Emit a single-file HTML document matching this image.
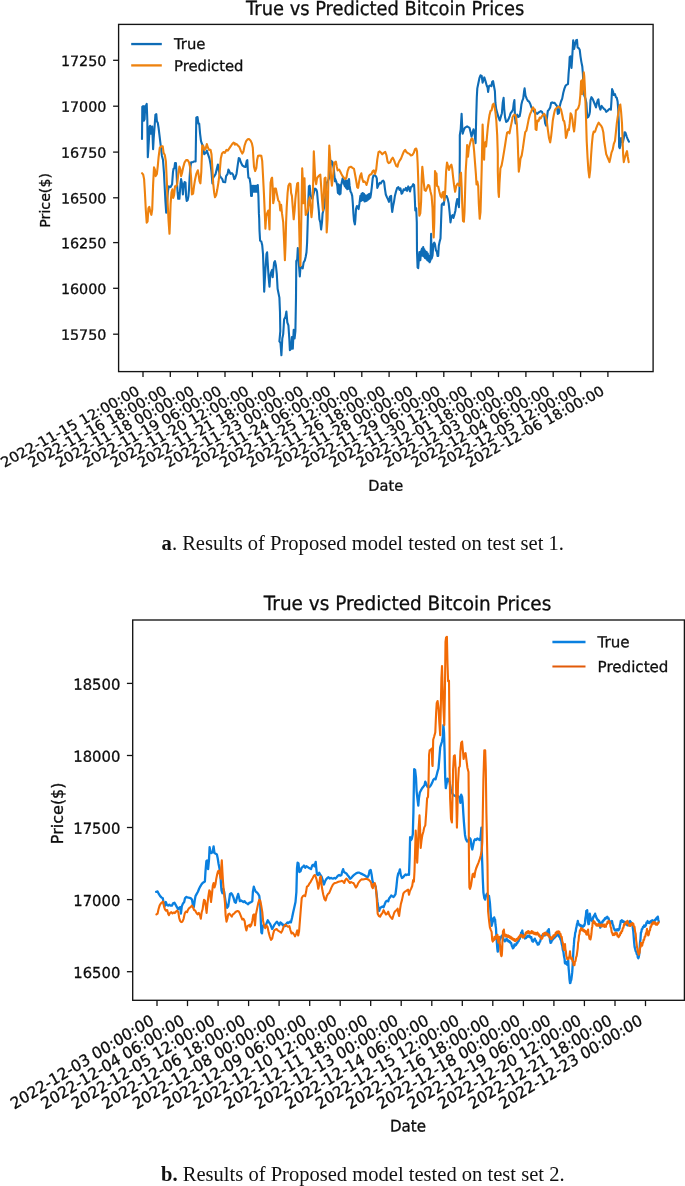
<!DOCTYPE html>
<html lang="en"><head><meta charset="utf-8"><title>True vs Predicted Bitcoin Prices</title>
<style>
html,body{margin:0;padding:0;background:#fff;}
body{width:685px;height:1186px;overflow:hidden;position:relative;}
svg{display:block;position:absolute;left:0;top:0;}
.dj{font-family:"DejaVu Sans","Liberation Sans",sans-serif;fill:#0d0d0d;stroke:#0d0d0d;stroke-width:0.3;}
.cap{font-family:"Liberation Serif","DejaVu Serif",serif;fill:#111;}
.ax{fill:none;stroke:#141414;stroke-width:1.35;}
.tk{stroke:#141414;stroke-width:1.3;}
</style></head><body>
<svg width="685" height="1186" viewBox="0 0 685 1186">
<rect width="685" height="1186" fill="#fff"/>
<g id="chart1">
<text class="dj" font-size="17.85" text-anchor="middle" transform="translate(385.15,14.95) scale(1,1.08) rotate(0.03)">True vs Predicted Bitcoin Prices</text>
<path d="M142.0,138.9 L142.3,106.8 L143.2,106.1 L143.8,120.7 L144.6,119.2 L145.2,106.1 L146.1,105.3 L146.7,103.9 L147.3,119.2 L147.8,157.2 L148.4,148.4 L149.0,138.2 L149.6,126.5 L150.2,125.8 L150.8,133.8 L151.4,128.7 L152.2,126.5 L153.1,149.1 L153.7,138.2 L154.6,126.5 L155.4,114.8 L156.3,114.1 L156.9,121.4 L157.8,122.8 L158.6,128.0 L159.5,135.3 L160.7,145.5 L161.9,155.7 L163.0,160.1 L163.9,171.8 L164.8,189.3 L165.4,200.9 L166.2,212.6 L167.1,200.9 L168.0,190.7 L168.9,186.4 L170.6,187.1 L172.1,184.2 L173.0,171.8 L173.5,168.8 L174.4,168.1 L175.0,163.0 L175.9,163.0 L176.5,171.8 L177.0,183.4 L177.6,192.2 L178.2,198.8 L179.4,198.8 L180.0,190.7 L180.5,183.4 L181.1,179.1 L182.0,183.4 L182.9,194.4 L183.8,184.9 L184.6,182.0 L185.5,182.7 L186.1,196.6 L186.7,200.9 L187.6,200.2 L188.4,196.6 L189.0,189.3 L189.6,177.6 L190.2,168.8 L191.1,162.3 L192.8,162.3 L193.7,161.5 L195.6,161.5 L196.3,117.7 L197.5,117.0 L198.4,123.6 L199.2,123.6 L200.1,133.8 L201.0,141.1 L202.2,144.7 L203.0,145.5 L204.2,154.2 L205.9,152.8 L206.8,150.6 L208.0,154.2 L209.5,158.6 L210.6,164.5 L211.5,171.8 L212.4,183.4 L213.2,177.6 L214.4,176.1 L215.6,173.9 L216.8,168.8 L217.9,164.5 L218.8,170.3 L220.0,176.1 L221.1,177.6 L222.3,179.1 L223.2,182.0 L225.2,182.3 L226.1,176.1 L227.6,173.9 L228.4,169.6 L229.6,171.8 L230.5,173.9 L231.9,173.2 L233.1,174.7 L234.3,179.1 L235.0,178.4 L236.5,174.0 L237.9,163.8 L238.8,158.0 L239.7,158.7 L240.8,162.3 L242.3,165.3 L244.1,166.7 L245.5,167.0 L246.7,160.9 L247.3,160.1 L247.8,169.6 L248.4,177.7 L249.6,178.4 L250.5,184.2 L251.1,195.9 L251.9,195.9 L252.2,185.7 L253.0,191.8 L253.7,185.7 L254.4,191.8 L255.1,185.7 L255.9,191.8 L256.6,185.7 L257.3,191.8 L257.8,185.1 L258.4,195.9 L258.9,213.4 L259.2,218.8 L259.5,230.4 L260.1,240.7 L261.3,241.4 L262.2,245.0 L263.0,253.8 L263.6,271.3 L264.2,291.8 L264.8,280.1 L265.7,265.5 L266.5,253.8 L267.1,252.3 L267.7,262.6 L268.6,277.2 L269.5,286.6 L270.0,278.6 L270.9,272.8 L272.1,269.9 L272.7,277.2 L273.2,271.3 L274.1,262.6 L275.0,261.1 L275.9,265.5 L276.8,274.2 L277.6,288.8 L278.5,293.2 L279.4,297.6 L280.0,312.2 L280.3,331.2 L279.4,341.4 L280.5,342.8 L281.4,355.3 L282.3,338.5 L283.2,334.1 L284.1,319.5 L285.5,316.6 L286.4,311.5 L287.3,322.4 L288.4,325.3 L289.3,338.5 L289.9,350.1 L291.1,348.7 L291.9,337.0 L292.8,348.7 L293.7,329.7 L294.6,338.5 L295.4,331.2 L296.0,297.6 L296.3,261.1 L297.2,259.6 L297.8,248.0 L298.6,261.1 L299.2,268.4 L299.8,276.4 L300.4,268.4 L301.6,266.9 L302.7,268.4 L303.6,262.6 L304.8,260.4 L305.7,256.7 L306.5,252.3 L307.1,242.8 L307.7,223.1 L308.3,201.8 L308.9,186.4 L309.7,185.7 L310.3,193.0 L311.2,197.4 L312.4,198.8 L313.8,193.0 L315.0,188.6 L316.2,189.3 L317.0,191.5 L317.9,201.8 L318.8,210.5 L319.4,219.3 L320.3,222.2 L321.1,229.5 L322.0,222.2 L322.6,213.4 L324.1,207.6 L325.5,195.9 L326.7,182.8 L327.8,181.3 L329.0,178.4 L330.2,168.2 L331.4,160.9 L332.5,162.3 L333.7,168.2 L335.0,181.3 L335.0,178.4 L336.2,181.3 L337.3,185.7 L337.9,193.0 L338.4,184.2 L338.8,193.7 L339.2,185.0 L339.7,194.5 L340.1,185.7 L340.5,193.7 L341.0,185.0 L341.4,184.2 L342.6,178.4 L343.2,180.6 L344.1,184.2 L344.9,186.4 L345.5,179.9 L346.1,187.9 L346.7,181.3 L347.3,189.3 L347.8,180.6 L348.4,188.6 L349.0,179.1 L349.6,185.7 L350.5,191.5 L351.4,193.0 L352.2,195.9 L352.8,203.2 L353.4,213.4 L354.0,220.7 L354.9,224.4 L355.4,219.3 L356.0,209.1 L356.9,206.1 L357.8,206.9 L358.6,209.1 L359.5,203.2 L360.4,195.9 L361.0,201.0 L361.6,193.7 L362.2,200.3 L362.7,193.0 L363.3,200.0 L363.9,193.7 L364.5,201.5 L365.1,195.2 L365.7,201.2 L366.2,195.9 L366.8,200.6 L367.4,195.2 L368.0,199.6 L368.6,194.2 L369.2,198.8 L369.7,193.7 L370.3,197.7 L370.9,194.5 L371.8,187.2 L372.7,178.4 L373.5,175.5 L374.7,175.2 L375.9,176.2 L376.8,178.4 L377.3,187.9 L378.5,185.0 L379.7,182.8 L380.8,183.5 L382.0,181.3 L383.2,180.6 L384.1,182.0 L384.9,188.6 L385.8,194.5 L387.0,197.4 L388.1,199.6 L389.0,201.8 L389.9,196.6 L391.1,195.9 L391.6,206.1 L392.2,212.0 L393.1,206.1 L394.0,201.8 L394.9,195.9 L396.0,191.5 L397.2,187.9 L398.4,187.2 L399.5,189.8 L400.4,188.3 L401.6,193.7 L402.4,193.0 L403.6,189.3 L404.8,190.1 L405.9,187.9 L407.1,190.8 L408.3,186.4 L409.2,188.6 L410.0,191.5 L410.9,187.2 L412.1,186.4 L413.2,184.2 L414.1,185.0 L414.7,195.9 L415.3,210.5 L416.2,208.3 L416.8,222.2 L417.0,251.4 L417.6,267.4 L418.2,268.2 L418.8,260.1 L419.4,252.1 L420.3,260.1 L421.1,251.4 L422.0,248.5 L422.6,255.8 L423.2,247.0 L423.8,256.5 L424.3,249.2 L424.9,258.0 L425.5,251.4 L426.1,258.7 L426.7,252.1 L427.3,260.1 L427.8,253.6 L428.4,260.9 L429.0,255.8 L429.6,262.3 L430.5,260.1 L431.1,233.9 L431.6,258.7 L432.5,255.8 L433.4,244.1 L434.3,242.6 L435.0,244.1 L435.0,244.3 L435.9,250.1 L436.8,251.6 L437.6,256.0 L438.2,256.0 L438.8,245.8 L439.7,241.4 L440.5,238.5 L441.1,220.9 L441.7,204.9 L442.6,203.4 L443.8,204.9 L444.6,197.6 L445.5,196.1 L446.7,196.1 L447.8,199.1 L448.7,203.4 L449.6,212.2 L450.5,222.4 L451.4,216.6 L452.5,215.1 L453.4,218.0 L454.3,215.1 L455.4,210.7 L456.3,203.4 L457.2,199.1 L458.1,203.4 L458.9,207.1 L459.5,188.8 L459.8,153.8 L459.8,135.1 L460.7,129.3 L461.6,113.9 L462.2,126.4 L462.7,133.6 L463.6,130.7 L464.8,127.8 L465.9,127.1 L467.1,126.4 L468.3,127.1 L469.5,127.8 L470.6,132.2 L471.5,136.6 L472.4,133.6 L473.5,129.3 L474.4,132.2 L475.6,143.1 L476.2,117.6 L476.8,97.2 L477.3,88.4 L478.2,84.0 L479.4,78.2 L480.5,75.3 L481.7,76.0 L482.6,82.6 L483.5,79.6 L484.3,77.4 L485.5,81.1 L486.7,85.5 L487.6,87.7 L488.1,92.0 L489.0,86.2 L490.2,85.5 L491.4,86.2 L492.2,81.8 L493.1,81.1 L494.0,86.2 L494.9,91.3 L495.4,103.0 L496.3,109.6 L497.5,113.9 L498.6,117.6 L499.8,120.5 L501.0,116.1 L501.9,113.2 L502.7,103.0 L503.6,97.9 L504.2,108.8 L505.1,117.6 L506.2,122.0 L507.4,121.2 L508.6,119.1 L509.7,116.1 L510.6,113.2 L511.8,111.8 L513.0,109.6 L513.8,103.0 L514.4,100.1 L515.0,117.6 L515.6,123.4 L516.2,117.6 L517.3,114.7 L518.5,116.9 L519.7,116.1 L520.5,111.8 L521.4,104.5 L522.3,100.8 L523.2,98.6 L524.1,91.3 L524.6,88.4 L525.5,95.7 L526.7,98.6 L527.8,100.8 L529.0,101.5 L530.2,103.7 L531.4,107.4 L532.5,109.6 L533.7,111.0 L535.0,113.2 L535.0,111.8 L536.2,113.2 L537.3,113.9 L538.5,112.5 L539.7,111.8 L540.8,111.0 L542.0,111.8 L543.2,114.7 L544.3,116.1 L545.2,123.4 L546.1,125.6 L547.0,117.6 L547.8,111.0 L549.0,109.6 L550.2,107.4 L551.1,103.0 L552.2,102.3 L553.4,103.0 L554.6,102.7 L555.7,104.5 L556.9,105.9 L557.8,113.9 L558.9,113.2 L559.8,105.9 L561.0,101.5 L562.2,98.6 L563.3,92.8 L564.5,88.4 L565.7,85.5 L566.8,84.7 L568.0,84.0 L568.6,73.8 L569.2,66.5 L569.7,57.0 L570.6,56.3 L571.5,68.0 L572.1,59.2 L572.7,49.0 L573.2,40.2 L574.1,49.0 L575.0,44.6 L576.2,40.2 L577.0,39.9 L577.6,47.5 L578.8,48.2 L579.7,49.7 L580.5,56.3 L581.4,62.1 L582.3,66.5 L582.9,73.8 L583.5,88.4 L584.3,95.7 L585.5,98.6 L586.4,103.0 L587.3,117.6 L588.4,116.9 L589.3,114.7 L589.9,111.8 L590.5,100.1 L591.4,97.2 L592.5,98.6 L593.7,101.5 L594.9,104.5 L596.0,107.4 L596.9,103.0 L597.8,100.1 L598.4,99.3 L599.2,105.9 L600.4,109.6 L601.6,105.9 L602.7,107.4 L603.9,108.8 L605.1,109.6 L606.2,111.8 L607.4,111.0 L608.6,109.6 L609.7,108.8 L610.9,109.6 L611.5,100.1 L612.1,89.1 L613.0,91.3 L613.8,95.0 L615.0,94.2 L615.9,97.2 L616.8,97.9 L617.6,101.5 L618.2,108.8 L618.8,123.4 L619.1,146.8 L619.7,148.2 L620.5,145.3 L621.1,138.0 L622.0,140.9 L622.9,142.4 L623.8,138.0 L624.6,132.2 L625.5,132.9 L626.7,136.6 L627.8,139.5 L629.0,141.7" fill="none" stroke="#0e6cb6" stroke-width="2.1" stroke-linejoin="round" stroke-linecap="round"/>
<path d="M142.0,173.2 L143.2,174.7 L144.1,179.1 L144.9,192.2 L145.8,209.7 L146.7,222.8 L147.6,221.4 L148.4,208.2 L149.3,206.8 L150.2,211.2 L151.4,214.8 L152.2,209.7 L153.1,184.9 L154.0,167.4 L154.9,169.6 L155.7,176.1 L156.9,173.9 L157.8,165.9 L158.6,157.2 L159.8,147.7 L161.3,146.2 L162.7,146.2 L163.6,152.8 L164.8,155.0 L165.9,161.5 L166.8,180.5 L167.7,203.9 L168.6,221.4 L169.5,233.8 L170.0,221.4 L170.6,203.9 L171.5,192.2 L172.4,189.3 L173.2,198.0 L174.1,195.1 L175.0,186.4 L176.2,186.4 L177.3,183.4 L178.2,174.7 L179.4,166.6 L180.3,168.8 L181.1,176.1 L182.0,173.2 L183.2,167.4 L184.6,162.3 L186.1,160.1 L187.6,160.1 L189.0,162.3 L190.2,167.4 L191.1,177.6 L191.9,194.4 L193.1,193.6 L194.0,186.4 L194.9,180.5 L196.3,173.9 L197.8,170.3 L198.6,174.7 L199.5,181.2 L200.4,183.4 L201.3,171.8 L202.2,145.5 L203.3,146.2 L204.5,149.9 L205.7,148.4 L206.8,144.0 L208.0,147.7 L209.2,149.9 L210.6,149.9 L211.5,154.2 L212.4,168.8 L213.2,183.4 L214.1,192.2 L215.0,197.3 L216.2,195.1 L217.3,189.3 L218.5,182.0 L219.7,171.8 L220.8,158.6 L222.0,153.5 L223.5,152.0 L224.9,152.8 L226.4,149.9 L227.8,150.6 L229.3,148.4 L230.8,146.2 L232.2,144.0 L233.7,142.6 L235.0,144.7 L235.0,143.4 L236.5,144.1 L237.9,145.5 L239.4,147.0 L240.8,150.7 L242.3,153.6 L243.5,151.4 L244.6,145.5 L246.1,141.2 L247.6,139.3 L249.0,139.0 L250.5,140.4 L251.9,143.4 L252.8,147.7 L253.4,158.0 L254.0,166.7 L255.1,171.1 L256.3,168.2 L257.2,159.4 L258.1,155.8 L259.8,155.5 L261.3,155.8 L262.2,160.9 L263.0,175.5 L263.9,193.0 L264.8,213.4 L265.4,228.8 L266.2,216.4 L267.1,213.4 L268.3,210.5 L268.9,219.3 L269.5,229.5 L270.0,201.8 L270.6,182.8 L271.5,178.4 L272.1,177.7 L272.7,187.2 L273.2,203.2 L274.1,198.8 L274.7,188.6 L275.9,188.6 L277.0,194.5 L278.2,200.3 L279.4,201.8 L280.3,210.5 L281.1,204.7 L282.0,213.4 L283.2,222.2 L284.1,241.2 L284.9,260.1 L285.5,245.5 L286.1,222.2 L286.7,207.6 L287.6,193.0 L288.4,185.7 L289.6,183.5 L290.5,184.2 L291.1,193.0 L291.9,195.9 L292.8,207.6 L293.7,219.3 L294.6,210.5 L295.4,198.8 L296.3,190.1 L297.2,183.5 L298.1,182.8 L298.6,201.8 L299.2,228.0 L299.8,251.4 L300.4,266.0 L301.0,236.8 L301.6,201.8 L302.2,168.2 L302.7,178.4 L303.3,203.2 L303.9,181.3 L304.5,178.4 L305.1,201.8 L305.7,214.9 L306.5,213.4 L307.7,210.5 L308.6,201.8 L309.7,197.4 L310.6,207.6 L311.5,217.1 L312.4,207.6 L313.2,181.3 L313.8,151.4 L314.7,168.2 L315.3,179.9 L316.2,184.2 L317.0,178.4 L317.9,176.9 L319.1,175.5 L320.3,174.7 L321.1,185.7 L322.0,198.8 L322.9,210.5 L323.8,195.9 L324.6,178.4 L325.5,177.7 L326.1,193.0 L326.7,232.4 L327.6,219.3 L328.4,178.4 L329.3,145.5 L330.2,158.0 L331.1,178.4 L331.9,185.7 L333.1,175.5 L334.3,162.3 L335.0,163.8 L335.0,163.8 L335.9,161.6 L336.8,166.7 L337.6,170.4 L339.1,169.6 L340.3,171.8 L341.4,174.0 L342.6,176.2 L343.8,177.7 L345.2,179.1 L346.4,177.7 L347.6,171.1 L349.0,167.4 L350.8,166.7 L352.5,167.9 L354.0,168.9 L355.1,174.7 L356.3,181.3 L357.2,187.2 L358.1,187.9 L358.9,182.8 L360.1,176.2 L361.3,173.3 L362.2,178.4 L363.3,182.0 L364.5,181.3 L365.7,182.8 L366.5,185.0 L367.4,182.0 L368.9,176.2 L370.0,174.7 L371.5,174.0 L372.7,171.1 L373.8,170.4 L375.0,174.0 L376.2,169.6 L377.3,159.4 L378.5,152.1 L379.7,151.4 L381.1,152.8 L382.3,154.3 L383.8,152.8 L385.2,151.8 L386.4,155.0 L387.6,161.6 L388.7,163.1 L390.2,162.3 L391.4,159.4 L392.8,157.7 L394.0,160.1 L395.1,163.1 L396.3,166.0 L397.5,166.7 L398.4,163.1 L399.5,160.9 L401.0,158.7 L402.4,155.0 L403.9,151.4 L405.1,149.9 L406.5,152.1 L408.0,153.3 L409.5,153.9 L410.9,155.5 L412.4,155.0 L413.8,152.8 L415.0,149.2 L416.2,148.5 L417.0,151.4 L417.6,162.3 L418.2,178.4 L418.8,201.8 L419.4,215.6 L420.3,213.4 L421.1,201.8 L421.7,178.4 L422.3,166.7 L422.9,172.6 L423.8,182.8 L424.6,190.1 L425.8,190.8 L427.0,187.9 L428.1,185.0 L429.3,185.7 L430.5,191.5 L431.6,195.9 L432.5,207.6 L433.1,228.0 L433.7,237.5 L434.3,222.2 L435.0,171.1 L435.6,172.8 L436.5,173.5 L437.0,185.9 L438.2,186.6 L439.4,191.8 L440.5,196.1 L441.7,197.6 L442.6,192.5 L443.5,191.8 L444.3,200.5 L445.2,191.8 L446.1,171.3 L447.0,162.6 L448.1,166.2 L449.0,169.9 L450.2,166.2 L451.4,164.7 L452.2,168.4 L453.1,177.2 L454.0,184.5 L455.1,191.8 L456.3,185.9 L457.5,183.7 L458.6,184.5 L459.5,185.9 L460.4,174.2 L461.0,172.8 L461.6,185.9 L462.2,203.4 L463.0,220.9 L463.9,221.7 L464.5,212.2 L465.1,191.8 L465.7,171.3 L466.5,158.2 L467.1,145.0 L468.0,156.7 L468.9,148.0 L470.0,143.6 L471.2,139.2 L472.4,138.5 L473.2,141.4 L474.1,150.9 L475.0,162.6 L475.9,174.2 L476.5,184.5 L477.3,181.5 L478.2,185.9 L478.8,203.4 L479.7,218.8 L480.5,212.2 L481.1,191.8 L481.7,168.4 L482.3,139.2 L482.6,124.6 L483.2,139.2 L484.1,159.6 L484.6,145.0 L485.5,142.1 L486.1,146.5 L487.0,136.3 L487.8,127.5 L488.7,120.2 L489.6,114.4 L489.6,114.7 L490.5,111.0 L491.6,110.3 L492.8,104.5 L493.7,103.7 L494.6,107.4 L495.4,111.8 L496.3,120.5 L497.2,135.1 L497.8,154.1 L497.8,171.3 L498.4,191.8 L498.9,196.9 L499.5,183.0 L500.4,168.4 L501.6,165.5 L502.7,159.6 L503.9,152.3 L505.1,145.0 L506.2,137.7 L507.1,132.6 L508.3,131.9 L509.5,133.4 L510.3,129.0 L511.2,124.6 L512.4,118.8 L512.4,117.6 L513.5,115.4 L514.7,114.7 L515.9,116.1 L516.8,123.4 L517.6,138.0 L518.2,155.5 L518.8,171.6 L519.7,165.8 L520.5,158.5 L521.7,155.5 L522.9,148.2 L524.1,139.5 L525.2,132.2 L526.4,130.7 L527.6,124.9 L528.7,119.1 L529.9,114.7 L531.1,111.8 L532.2,108.8 L533.1,107.4 L534.3,109.6 L535.0,109.6 L535.6,129.3 L536.5,130.0 L537.3,120.5 L538.5,121.2 L539.7,117.6 L540.8,118.3 L542.0,116.1 L543.2,114.7 L544.3,113.9 L545.5,116.1 L546.7,120.5 L547.8,129.3 L549.0,138.0 L550.2,142.4 L551.1,136.6 L551.9,129.3 L552.8,120.5 L554.0,113.9 L555.1,109.6 L556.3,108.1 L557.5,107.4 L558.6,106.6 L559.8,107.4 L561.0,109.6 L562.2,114.7 L563.3,120.5 L564.2,121.2 L565.1,126.4 L565.9,138.0 L566.8,135.1 L568.0,129.3 L568.9,130.0 L569.7,123.4 L570.6,113.2 L571.5,114.7 L572.4,119.1 L573.2,126.4 L574.1,131.5 L575.0,123.4 L575.9,110.3 L577.0,109.6 L578.2,108.1 L579.4,104.5 L580.3,95.7 L581.1,81.1 L581.7,80.4 L582.3,94.2 L583.2,85.5 L583.8,72.3 L584.3,76.7 L584.9,88.4 L585.5,103.0 L586.1,120.5 L586.7,140.9 L587.6,158.5 L588.4,170.1 L589.3,177.4 L590.2,170.1 L591.1,155.5 L591.9,143.9 L592.8,135.1 L593.7,131.5 L594.6,132.2 L595.4,130.7 L596.3,127.8 L597.5,124.9 L598.6,122.7 L599.8,124.2 L601.0,125.6 L602.2,127.8 L603.3,132.2 L604.2,140.9 L605.1,146.8 L606.2,154.1 L607.4,157.0 L608.6,159.9 L609.5,162.1 L610.3,158.5 L611.5,152.6 L612.7,149.7 L613.8,143.9 L615.0,140.9 L615.9,132.2 L616.8,123.4 L617.6,117.6 L618.5,111.8 L619.4,105.9 L620.3,104.5 L621.1,111.8 L622.0,123.4 L622.6,140.9 L623.2,155.5 L623.8,162.1 L624.6,158.5 L625.5,155.5 L626.4,152.6 L627.0,151.2 L627.8,157.0 L628.7,162.1" fill="none" stroke="#ee820e" stroke-width="2.1" stroke-linejoin="round" stroke-linecap="round"/>
<rect class="ax" x="118.6" y="24.4" width="534.5" height="347.2"/>
<line class="tk" x1="113.1" y1="60.3" x2="118.6" y2="60.3"/>
<text class="dj" font-size="14.8" text-anchor="end" transform="translate(106.40,65.90) scale(1,0.96) rotate(0.03) scale(0.967,1)">17250</text>
<line class="tk" x1="113.1" y1="106.2" x2="118.6" y2="106.2"/>
<text class="dj" font-size="14.8" text-anchor="end" transform="translate(106.40,111.80) scale(1,0.96) rotate(0.03) scale(0.967,1)">17000</text>
<line class="tk" x1="113.1" y1="152.1" x2="118.6" y2="152.1"/>
<text class="dj" font-size="14.8" text-anchor="end" transform="translate(106.40,157.70) scale(1,0.96) rotate(0.03) scale(0.967,1)">16750</text>
<line class="tk" x1="113.1" y1="197.8" x2="118.6" y2="197.8"/>
<text class="dj" font-size="14.8" text-anchor="end" transform="translate(106.40,203.40) scale(1,0.96) rotate(0.03) scale(0.967,1)">16500</text>
<line class="tk" x1="113.1" y1="242.6" x2="118.6" y2="242.6"/>
<text class="dj" font-size="14.8" text-anchor="end" transform="translate(106.40,248.20) scale(1,0.96) rotate(0.03) scale(0.967,1)">16250</text>
<line class="tk" x1="113.1" y1="288.3" x2="118.6" y2="288.3"/>
<text class="dj" font-size="14.8" text-anchor="end" transform="translate(106.40,293.90) scale(1,0.96) rotate(0.03) scale(0.967,1)">16000</text>
<line class="tk" x1="113.1" y1="334.2" x2="118.6" y2="334.2"/>
<text class="dj" font-size="14.8" text-anchor="end" transform="translate(106.40,339.80) scale(1,0.96) rotate(0.03) scale(0.967,1)">15750</text>
<line class="tk" x1="143.0" y1="371.6" x2="143.0" y2="377.1"/>
<text class="dj" font-size="14.8" text-anchor="end" transform="translate(140.60,393.90) scale(1,0.94) rotate(-30)">2022-11-15 12:00:00</text>
<line class="tk" x1="170.3" y1="371.6" x2="170.3" y2="377.1"/>
<text class="dj" font-size="14.8" text-anchor="end" transform="translate(167.95,393.90) scale(1,0.94) rotate(-30)">2022-11-16 18:00:00</text>
<line class="tk" x1="197.7" y1="371.6" x2="197.7" y2="377.1"/>
<text class="dj" font-size="14.8" text-anchor="end" transform="translate(195.29,393.90) scale(1,0.94) rotate(-30)">2022-11-18 00:00:00</text>
<line class="tk" x1="225.0" y1="371.6" x2="225.0" y2="377.1"/>
<text class="dj" font-size="14.8" text-anchor="end" transform="translate(222.64,393.90) scale(1,0.94) rotate(-30)">2022-11-19 06:00:00</text>
<line class="tk" x1="252.4" y1="371.6" x2="252.4" y2="377.1"/>
<text class="dj" font-size="14.8" text-anchor="end" transform="translate(249.99,393.90) scale(1,0.94) rotate(-30)">2022-11-20 12:00:00</text>
<line class="tk" x1="279.7" y1="371.6" x2="279.7" y2="377.1"/>
<text class="dj" font-size="14.8" text-anchor="end" transform="translate(277.34,393.90) scale(1,0.94) rotate(-30)">2022-11-21 18:00:00</text>
<line class="tk" x1="307.1" y1="371.6" x2="307.1" y2="377.1"/>
<text class="dj" font-size="14.8" text-anchor="end" transform="translate(304.68,393.90) scale(1,0.94) rotate(-30)">2022-11-23 00:00:00</text>
<line class="tk" x1="334.4" y1="371.6" x2="334.4" y2="377.1"/>
<text class="dj" font-size="14.8" text-anchor="end" transform="translate(332.03,393.90) scale(1,0.94) rotate(-30)">2022-11-24 06:00:00</text>
<line class="tk" x1="361.8" y1="371.6" x2="361.8" y2="377.1"/>
<text class="dj" font-size="14.8" text-anchor="end" transform="translate(359.38,393.90) scale(1,0.94) rotate(-30)">2022-11-25 12:00:00</text>
<line class="tk" x1="389.1" y1="371.6" x2="389.1" y2="377.1"/>
<text class="dj" font-size="14.8" text-anchor="end" transform="translate(386.72,393.90) scale(1,0.94) rotate(-30)">2022-11-26 18:00:00</text>
<line class="tk" x1="416.5" y1="371.6" x2="416.5" y2="377.1"/>
<text class="dj" font-size="14.8" text-anchor="end" transform="translate(414.07,393.90) scale(1,0.94) rotate(-30)">2022-11-28 00:00:00</text>
<line class="tk" x1="443.8" y1="371.6" x2="443.8" y2="377.1"/>
<text class="dj" font-size="14.8" text-anchor="end" transform="translate(441.42,393.90) scale(1,0.94) rotate(-30)">2022-11-29 06:00:00</text>
<line class="tk" x1="471.2" y1="371.6" x2="471.2" y2="377.1"/>
<text class="dj" font-size="14.8" text-anchor="end" transform="translate(468.76,393.90) scale(1,0.94) rotate(-30)">2022-11-30 12:00:00</text>
<line class="tk" x1="498.5" y1="371.6" x2="498.5" y2="377.1"/>
<text class="dj" font-size="14.8" text-anchor="end" transform="translate(496.11,393.90) scale(1,0.94) rotate(-30)">2022-12-01 18:00:00</text>
<line class="tk" x1="525.9" y1="371.6" x2="525.9" y2="377.1"/>
<text class="dj" font-size="14.8" text-anchor="end" transform="translate(523.46,393.90) scale(1,0.94) rotate(-30)">2022-12-03 00:00:00</text>
<line class="tk" x1="553.2" y1="371.6" x2="553.2" y2="377.1"/>
<text class="dj" font-size="14.8" text-anchor="end" transform="translate(550.81,393.90) scale(1,0.94) rotate(-30)">2022-12-04 06:00:00</text>
<line class="tk" x1="580.6" y1="371.6" x2="580.6" y2="377.1"/>
<text class="dj" font-size="14.8" text-anchor="end" transform="translate(578.15,393.90) scale(1,0.94) rotate(-30)">2022-12-05 12:00:00</text>
<line class="tk" x1="607.9" y1="371.6" x2="607.9" y2="377.1"/>
<text class="dj" font-size="14.8" text-anchor="end" transform="translate(605.50,393.90) scale(1,0.94) rotate(-30)">2022-12-06 18:00:00</text>
<text class="dj" font-size="14.8" text-anchor="middle" transform="translate(385.70,490.80) rotate(0.03) scale(0.985,1)">Date</text>
<text class="dj" font-size="14.8" text-anchor="middle" transform="translate(50.00,200.40) scale(1,0.96) rotate(-90)">Price($)</text>
<line x1="131.2" y1="44.05" x2="161.8" y2="44.05" stroke="#0e6cb6" stroke-width="2.3"/>
<line x1="131.2" y1="65.4" x2="161.8" y2="65.4" stroke="#ee820e" stroke-width="2.3"/>
<text class="dj" font-size="14.8" text-anchor="start" transform="translate(174.00,49.05) rotate(0.03)">True</text>
<text class="dj" font-size="14.8" text-anchor="start" transform="translate(174.00,71.00) rotate(0.03)">Predicted</text>
</g>
<text class="cap" x="362.8" y="549.9" font-size="20.55" text-anchor="middle"><tspan font-weight="bold">a</tspan>. Results of Proposed model tested on test set 1.</text>
<g id="chart2">
<text class="dj" font-size="18.45" text-anchor="middle" transform="translate(407.50,610.10) scale(1,1.06) rotate(0.03)">True vs Predicted Bitcoin Prices</text>
<path d="M156.1,891.8 L157.6,891.5 L158.8,893.9 L160.2,896.1 L161.7,897.6 L162.8,898.3 L163.7,903.4 L164.6,906.4 L165.8,902.0 L166.9,904.9 L168.1,905.6 L169.3,904.6 L170.4,905.6 L171.9,905.6 L173.1,903.4 L174.5,902.7 L175.7,904.9 L176.9,907.1 L178.0,909.3 L179.2,907.8 L180.4,907.1 L180.9,913.6 L181.8,906.4 L183.0,903.4 L184.2,902.0 L185.0,898.3 L186.2,896.9 L187.4,897.3 L188.5,897.6 L189.7,897.9 L190.9,898.3 L192.0,899.8 L192.9,904.9 L193.8,907.1 L194.7,900.5 L195.5,896.1 L196.7,893.9 L197.9,891.8 L199.1,888.8 L200.2,886.6 L201.4,884.5 L202.6,883.0 L203.7,882.3 L204.9,881.5 L205.5,871.3 L206.4,861.1 L207.2,860.4 L208.1,869.1 L209.0,859.6 L209.6,847.2 L210.4,852.3 L211.3,853.1 L212.5,852.3 L213.6,846.5 L214.5,853.1 L215.7,853.8 L216.9,854.5 L217.7,858.2 L218.6,864.0 L219.5,868.4 L220.4,874.2 L220.9,883.0 L221.5,890.3 L222.4,893.2 L223.3,888.8 L224.2,891.8 L225.0,897.6 L225.9,903.4 L227.1,907.8 L228.2,906.4 L229.1,900.5 L230.0,893.9 L231.2,893.2 L232.3,894.7 L233.5,897.6 L234.7,902.0 L235.8,902.7 L237.0,897.6 L238.2,893.9 L239.1,897.6 L239.9,901.2 L241.1,900.5 L242.3,901.2 L243.4,902.0 L244.6,901.2 L245.8,902.7 L246.9,903.4 L248.1,904.2 L249.3,902.7 L250.0,902.7 L251.2,902.0 L252.3,901.2 L252.9,891.8 L253.8,886.6 L254.7,889.6 L255.8,891.8 L257.0,892.5 L258.2,893.9 L259.3,896.1 L260.2,903.4 L260.8,920.9 L261.4,932.6 L262.0,933.4 L262.6,926.8 L263.4,925.3 L264.6,926.8 L265.8,925.3 L266.9,922.4 L267.8,920.2 L269.0,922.4 L270.1,923.9 L271.3,926.8 L272.2,929.0 L273.4,926.8 L274.5,924.6 L275.7,923.1 L276.9,921.7 L278.0,923.1 L279.2,925.3 L280.4,922.4 L281.5,923.1 L282.7,925.3 L283.9,924.6 L285.0,926.1 L286.2,923.9 L287.4,922.4 L288.5,923.1 L289.7,921.7 L290.9,922.4 L292.0,918.0 L293.2,912.2 L294.4,907.1 L295.5,902.0 L296.4,891.8 L297.0,868.4 L297.6,862.6 L298.5,863.3 L299.3,872.0 L300.5,871.3 L301.7,867.7 L302.8,866.9 L304.0,865.5 L305.2,867.7 L306.4,866.2 L307.5,866.9 L308.7,867.7 L309.9,868.4 L311.0,869.1 L312.2,865.5 L313.4,864.7 L314.5,866.2 L315.7,861.8 L316.3,868.4 L316.9,874.2 L318.0,875.0 L319.2,872.8 L320.4,875.0 L321.5,876.4 L322.7,880.1 L323.9,884.5 L325.0,881.5 L326.2,879.3 L327.4,877.9 L328.5,877.2 L329.7,878.6 L330.9,877.9 L332.0,878.3 L333.2,878.6 L334.4,877.9 L335.5,878.6 L336.7,877.2 L337.9,875.7 L339.1,875.0 L340.2,875.7 L341.4,875.0 L342.3,871.3 L343.1,869.1 L344.0,872.0 L345.2,872.8 L346.4,873.5 L347.5,875.0 L348.7,876.4 L350.0,878.6 L350.0,878.8 L351.2,878.0 L352.3,876.6 L353.5,875.4 L354.7,874.4 L355.8,873.6 L357.0,872.9 L358.2,872.6 L359.3,872.6 L360.5,873.4 L361.7,873.9 L362.8,874.4 L364.0,875.1 L365.2,875.8 L366.4,876.6 L367.5,877.3 L368.7,875.1 L369.6,870.7 L370.7,870.0 L371.6,874.4 L372.5,880.9 L373.4,883.1 L374.5,884.6 L375.7,886.8 L376.6,894.1 L377.4,901.4 L378.3,907.2 L379.2,910.9 L380.1,908.0 L381.2,907.2 L382.4,906.5 L383.6,907.2 L384.7,904.3 L385.9,901.4 L387.1,900.7 L388.2,901.4 L389.1,898.5 L390.3,897.0 L391.2,895.5 L392.3,896.3 L393.5,897.0 L394.7,895.5 L395.5,894.1 L396.4,886.8 L397.3,878.0 L398.2,873.6 L399.1,872.2 L399.9,869.3 L400.8,875.1 L402.0,878.0 L403.1,877.3 L404.3,875.8 L405.5,874.4 L406.6,875.1 L407.8,874.4 L409.0,874.8 L409.6,857.6 L410.1,837.2 L411.0,840.1 L411.9,838.6 L412.8,834.2 L413.4,813.0 L413.9,783.8 L414.2,769.2 L415.1,769.9 L416.0,778.0 L416.6,791.1 L417.4,798.4 L418.3,805.7 L418.9,798.4 L419.8,792.6 L420.9,790.4 L422.1,788.2 L423.3,786.7 L424.5,785.3 L425.3,781.6 L426.2,783.8 L427.4,786.7 L428.5,787.4 L429.7,786.7 L430.9,785.3 L432.0,783.1 L433.2,780.1 L434.4,778.7 L435.5,779.4 L436.7,775.0 L437.6,771.4 L438.5,768.5 L439.3,759.0 L440.2,747.3 L441.1,744.4 L442.0,741.5 L442.8,736.8 L443.4,725.1 L444.0,732.4 L444.6,751.4 L445.2,777.7 L445.2,778.0 L445.8,788.2 L446.6,783.8 L447.5,778.7 L448.4,779.4 L449.6,782.3 L450.7,788.2 L451.9,792.6 L453.1,794.7 L454.2,795.5 L455.7,796.2 L457.2,796.9 L458.6,796.2 L459.8,798.4 L460.4,802.8 L461.2,794.7 L462.1,796.9 L462.7,802.8 L463.3,813.0 L463.9,821.8 L464.5,829.1 L465.0,834.9 L465.9,839.3 L467.1,841.5 L468.2,840.7 L469.4,837.8 L470.6,839.3 L471.5,846.6 L472.3,849.5 L473.2,845.1 L474.1,840.7 L475.0,839.3 L476.1,840.0 L477.3,838.5 L478.5,839.3 L479.6,840.0 L480.5,837.8 L481.4,827.6 L481.7,842.2 L481.7,850.0 L482.3,864.6 L482.8,879.2 L483.4,892.3 L484.3,898.2 L485.2,899.6 L486.1,895.3 L486.9,893.8 L488.1,895.3 L489.0,896.0 L489.9,902.6 L490.7,914.2 L491.6,925.9 L492.5,922.5 L492.9,921.3 L493.4,918.1 L493.8,918.7 L494.2,917.4 L494.7,919.5 L495.1,919.6 L495.5,925.0 L496.0,928.3 L496.4,936.6 L496.9,942.9 L497.3,948.3 L497.7,951.7 L498.2,950.5 L498.6,947.3 L499.1,944.7 L499.5,940.0 L500.1,939.6 L500.7,937.1 L501.2,937.4 L501.8,935.6 L502.4,937.4 L503.0,937.1 L503.6,939.6 L504.2,940.0 L504.7,941.4 L505.3,940.7 L505.9,940.6 L506.5,938.6 L507.1,940.3 L507.7,940.0 L508.2,941.4 L508.8,940.7 L509.4,942.1 L510.0,941.5 L510.6,943.2 L511.2,942.9 L511.8,945.8 L512.3,946.6 L512.8,948.3 L513.2,948.0 L513.8,947.2 L514.4,944.4 L515.0,945.8 L515.5,945.1 L516.1,945.0 L516.7,942.9 L517.3,943.2 L517.9,941.5 L518.5,941.4 L519.1,939.3 L519.6,939.2 L520.2,937.1 L520.7,935.9 L521.1,932.7 L521.7,932.6 L522.3,930.5 L522.7,933.3 L523.1,934.2 L523.7,936.6 L524.3,937.1 L524.9,938.5 L525.5,937.8 L526.1,938.1 L526.6,936.4 L527.2,937.0 L527.8,935.6 L528.4,936.6 L529.0,935.6 L529.6,937.0 L530.1,936.4 L530.7,937.7 L531.3,937.1 L531.9,940.3 L532.5,941.5 L533.1,941.7 L533.6,940.0 L534.2,940.3 L534.8,938.6 L535.4,940.6 L536.0,940.7 L536.6,942.8 L537.2,942.9 L537.7,944.7 L538.3,944.4 L538.9,944.3 L539.5,942.2 L540.1,941.7 L540.7,939.3 L541.2,938.5 L541.8,935.6 L542.4,935.9 L543.0,934.2 L543.6,935.5 L544.2,934.9 L544.7,935.5 L545.3,934.2 L545.9,934.4 L546.5,932.7 L547.1,932.6 L547.7,930.5 L548.2,930.8 L548.8,929.1 L549.3,934.1 L549.7,937.1 L550.1,941.0 L550.6,942.9 L551.2,942.5 L551.8,940.0 L552.3,940.3 L552.9,938.6 L553.5,938.8 L554.1,937.1 L554.7,937.7 L555.3,936.4 L555.8,936.6 L556.4,934.9 L557.0,935.5 L557.6,934.2 L558.2,935.5 L558.8,934.9 L559.3,937.0 L559.9,937.1 L560.5,939.6 L561.1,940.0 L561.7,943.9 L562.3,945.9 L562.8,949.8 L563.4,951.7 L564.0,956.3 L564.6,959.0 L564.8,962.2 L565.0,963.4 L565.6,963.6 L566.2,961.9 L566.8,964.4 L567.3,964.8 L567.8,963.6 L568.2,960.4 L568.6,968.0 L569.1,973.6 L569.5,979.3 L570.0,983.1 L570.4,983.0 L570.8,980.9 L571.3,979.7 L571.7,976.5 L572.2,972.4 L572.6,966.3 L573.0,958.5 L573.5,948.8 L573.9,944.7 L574.3,938.6 L574.8,936.6 L575.2,932.7 L575.7,931.5 L576.1,928.3 L576.5,927.1 L577.0,924.0 L577.4,923.5 L577.8,921.0 L578.3,923.5 L578.7,924.0 L579.3,925.3 L579.9,924.7 L580.5,926.0 L581.1,925.4 L581.6,926.8 L582.2,926.1 L582.8,926.8 L583.4,925.4 L584.0,926.0 L584.6,924.7 L585.0,922.4 L585.4,918.1 L585.9,915.5 L586.3,910.8 L586.8,911.4 L587.2,910.1 L587.6,917.3 L588.1,922.5 L588.5,924.2 L588.9,924.0 L589.4,919.8 L589.8,913.7 L590.3,916.9 L590.7,918.1 L591.1,920.2 L591.6,920.3 L592.0,920.9 L592.4,919.6 L592.9,919.1 L593.3,916.7 L593.8,916.9 L594.2,915.2 L594.6,915.5 L595.1,913.7 L595.5,915.8 L595.9,915.9 L596.4,918.0 L596.8,918.1 L597.4,919.8 L598.0,919.6 L598.6,921.3 L599.2,921.0 L599.7,925.3 L600.3,927.6 L600.9,926.0 L601.5,922.5 L602.1,922.8 L602.7,921.0 L603.2,921.3 L603.8,919.6 L604.4,919.8 L605.0,918.1 L605.6,918.7 L606.2,917.4 L606.8,918.0 L607.3,916.7 L607.9,918.4 L608.5,918.1 L609.1,920.6 L609.7,921.0 L610.3,922.8 L610.8,922.5 L611.4,922.8 L612.0,921.0 L612.6,924.2 L613.2,925.4 L613.8,928.2 L614.3,929.1 L614.9,930.4 L615.5,929.8 L616.1,930.6 L616.7,929.5 L617.3,930.3 L617.8,929.1 L618.4,930.3 L619.0,929.5 L619.5,928.5 L619.9,925.4 L620.3,924.2 L620.8,921.0 L621.4,921.7 L621.9,920.3 L622.5,921.7 L623.1,921.0 L623.7,922.4 L624.3,921.8 L624.9,923.1 L625.4,922.5 L626.0,923.9 L626.6,923.2 L627.2,925.3 L627.8,925.4 L628.4,924.6 L628.9,921.8 L629.5,922.4 L630.1,921.0 L630.7,922.8 L631.3,922.5 L631.9,924.2 L632.4,924.0 L632.9,928.6 L633.3,931.3 L633.8,938.1 L634.2,942.9 L634.6,946.9 L635.1,948.8 L635.7,951.2 L636.2,951.7 L636.8,954.1 L637.4,954.6 L637.8,957.4 L638.3,958.3 L638.7,957.4 L639.2,954.6 L639.6,949.8 L640.0,942.9 L640.5,938.8 L640.9,932.7 L641.4,931.9 L641.8,929.1 L642.4,929.0 L643.0,926.9 L643.5,927.1 L644.1,925.4 L644.7,926.8 L645.3,926.1 L645.9,925.3 L646.5,922.5 L647.0,922.8 L647.6,921.0 L648.2,922.8 L648.8,922.5 L649.4,923.1 L650.0,921.8 L650.5,922.4 L651.1,921.0 L651.7,921.7 L652.3,920.3 L652.9,921.7 L653.5,921.0 L654.1,921.7 L654.6,920.3 L655.2,920.6 L655.8,918.8 L656.4,919.1 L657.0,917.4 L657.4,918.0 L657.8,916.7 L658.3,919.8 L658.7,921.5" fill="none" stroke="#0a80e0" stroke-width="2.3" stroke-linejoin="round" stroke-linecap="round"/>
<path d="M156.4,914.4 L157.6,913.6 L158.5,909.3 L159.6,905.6 L160.8,903.4 L162.0,902.3 L163.1,901.7 L164.0,906.4 L164.9,909.3 L166.1,910.7 L167.2,910.0 L168.1,913.6 L169.0,915.1 L170.1,912.9 L171.3,912.2 L172.5,913.4 L173.6,912.5 L174.8,913.1 L176.0,911.5 L177.2,910.7 L178.3,912.2 L179.2,918.0 L180.1,920.9 L181.2,922.1 L182.4,921.7 L183.6,918.8 L184.7,913.6 L185.9,911.5 L187.1,912.2 L188.2,909.3 L189.4,907.8 L190.6,907.1 L191.8,905.6 L192.9,907.1 L194.1,910.0 L195.3,910.7 L196.4,912.9 L197.6,914.4 L198.8,912.9 L199.9,915.1 L200.8,918.8 L201.7,912.2 L202.6,909.3 L203.4,903.4 L204.0,899.8 L204.9,900.5 L205.8,906.4 L206.6,912.9 L207.5,903.4 L208.4,896.1 L209.3,890.3 L210.1,891.8 L211.0,902.0 L211.9,894.7 L212.8,885.9 L213.6,883.0 L214.5,887.4 L215.4,884.5 L216.3,878.6 L217.2,874.2 L218.0,871.3 L218.9,870.6 L219.8,874.2 L220.7,878.6 L221.2,868.4 L221.8,860.4 L222.4,871.3 L223.0,881.5 L223.6,888.8 L224.2,894.7 L225.0,903.4 L225.6,915.1 L226.5,921.7 L227.4,918.8 L228.2,914.4 L229.4,913.6 L230.6,915.1 L231.8,916.6 L232.9,914.4 L234.1,913.6 L235.3,912.2 L236.4,911.5 L237.6,911.0 L238.8,911.5 L239.9,913.6 L241.1,916.6 L242.3,919.5 L243.4,918.8 L244.6,920.9 L245.5,926.8 L246.4,930.4 L247.5,926.1 L248.7,925.3 L250.0,924.6 L250.0,926.8 L251.2,925.3 L252.3,920.9 L253.2,915.1 L254.1,914.4 L255.0,925.3 L255.8,915.1 L257.0,909.3 L258.2,903.4 L259.3,899.8 L260.2,900.5 L261.1,904.9 L262.3,912.2 L263.1,920.9 L264.0,925.3 L265.2,928.2 L266.4,925.3 L267.5,926.8 L268.7,932.6 L269.9,937.0 L271.0,939.9 L272.2,938.5 L273.1,934.1 L274.2,930.4 L275.4,929.7 L276.6,929.0 L277.7,930.4 L278.9,931.2 L280.1,931.9 L281.2,932.6 L282.4,930.4 L283.6,926.8 L284.7,925.3 L285.9,924.6 L287.1,926.1 L288.2,926.8 L289.4,926.1 L290.3,929.7 L291.5,933.4 L292.6,932.6 L293.8,934.1 L295.0,936.3 L296.1,934.1 L297.3,930.4 L298.2,935.5 L299.1,931.2 L299.9,920.9 L300.8,909.3 L301.7,898.3 L302.8,896.1 L304.0,895.4 L305.2,896.1 L306.1,891.8 L306.9,886.6 L308.1,885.9 L309.3,883.7 L310.4,882.3 L311.6,880.1 L312.8,877.9 L313.9,875.7 L315.1,875.0 L316.3,878.6 L317.4,883.0 L318.3,888.8 L319.2,884.5 L320.1,877.2 L320.9,876.4 L321.5,884.5 L322.4,890.3 L323.3,894.7 L324.5,899.1 L325.6,900.5 L326.8,896.1 L328.0,893.9 L329.1,893.2 L330.3,890.3 L331.5,887.4 L332.6,885.2 L333.8,883.7 L335.0,883.0 L336.1,882.7 L337.3,882.3 L338.5,881.8 L339.6,881.5 L340.8,881.2 L342.0,880.8 L343.1,881.5 L344.3,883.0 L345.2,880.1 L346.4,878.6 L347.5,879.8 L348.7,881.5 L350.0,883.0 L350.0,882.4 L351.2,882.1 L352.3,882.7 L353.5,883.1 L354.7,885.3 L355.8,887.5 L357.0,886.1 L358.2,883.1 L359.3,881.7 L360.5,880.2 L361.7,879.2 L362.8,879.5 L364.0,879.2 L365.2,878.9 L366.4,878.8 L367.5,879.2 L368.7,879.8 L369.9,880.9 L371.0,882.4 L371.9,886.8 L372.8,888.2 L373.6,883.9 L374.8,883.1 L375.7,886.8 L376.6,895.5 L377.2,907.2 L377.7,913.8 L378.9,916.0 L380.1,916.7 L381.2,914.5 L382.4,913.1 L383.6,910.1 L384.7,912.3 L385.9,914.5 L387.1,913.8 L388.2,911.6 L389.1,914.5 L390.3,916.7 L391.5,918.2 L392.3,918.9 L393.2,916.0 L394.4,912.3 L395.5,910.9 L396.7,910.1 L397.6,908.7 L398.5,913.8 L399.1,916.0 L399.9,910.1 L400.8,904.3 L402.0,899.9 L403.4,893.3 L404.6,891.8 L405.8,891.1 L406.9,890.4 L408.1,889.6 L409.0,894.7 L409.9,891.1 L411.0,888.9 L412.2,886.0 L413.1,880.1 L413.9,881.6 L414.5,871.4 L415.1,850.9 L415.7,830.5 L416.3,842.2 L417.2,862.6 L417.7,852.4 L418.6,829.1 L419.5,815.2 L420.1,829.1 L420.7,848.0 L421.5,840.7 L422.4,834.9 L423.3,832.0 L424.2,827.6 L425.3,825.4 L426.2,813.0 L427.1,798.4 L428.0,796.9 L428.5,783.8 L429.1,754.6 L429.7,750.2 L430.6,749.9 L431.8,748.5 L432.3,764.5 L432.6,766.0 L433.2,739.7 L434.1,736.8 L435.3,732.4 L436.1,713.4 L436.7,703.2 L437.6,701.0 L438.5,707.6 L439.3,722.2 L440.2,735.3 L440.8,707.6 L441.4,678.4 L442.0,666.0 L442.6,685.7 L443.4,707.6 L444.3,725.1 L444.9,693.0 L445.5,641.9 L446.1,637.5 L446.9,636.8 L447.5,663.8 L448.1,681.3 L449.0,680.6 L449.3,710.5 L449.6,736.8 L449.6,769.2 L450.1,798.4 L451.0,818.8 L451.9,822.5 L452.5,798.4 L453.1,769.2 L453.9,756.1 L454.8,755.3 L455.7,769.2 L456.3,798.4 L456.9,827.6 L457.4,813.0 L458.0,783.8 L458.9,767.7 L459.8,766.3 L460.4,751.7 L461.2,742.9 L462.1,741.5 L463.0,751.7 L463.6,759.0 L464.5,753.9 L465.6,753.1 L466.5,760.4 L467.4,767.7 L468.5,772.1 L468.8,798.4 L468.8,842.2 L469.1,871.4 L469.4,887.4 L470.0,888.9 L470.9,886.0 L471.8,880.1 L472.6,874.3 L473.5,873.6 L474.4,877.2 L475.3,871.4 L476.1,868.5 L477.3,865.5 L478.5,862.6 L479.6,859.7 L480.8,855.3 L481.7,850.9 L482.3,842.2 L482.8,813.0 L483.4,779.4 L484.3,750.2 L485.2,750.2 L485.8,769.2 L486.4,813.0 L487.2,850.0 L487.5,864.6 L487.8,893.8 L488.1,911.3 L489.0,920.1 L489.9,927.4 L490.7,929.6 L491.6,931.8 L492.2,939.8 L492.8,941.6 L493.4,940.5 L493.9,940.2 L494.5,936.8 L495.1,939.1 L495.7,938.3 L496.1,938.3 L496.6,935.4 L497.0,936.5 L497.4,934.7 L497.9,940.2 L498.3,942.7 L498.8,941.3 L499.2,936.8 L499.6,942.7 L500.1,945.6 L500.5,951.5 L500.9,954.4 L501.4,956.2 L501.8,955.1 L502.1,950.4 L502.4,942.7 L502.7,938.3 L503.0,931.0 L503.4,931.8 L503.9,929.5 L504.3,934.0 L504.7,935.4 L505.3,936.5 L505.9,934.7 L506.5,936.5 L507.1,935.4 L507.7,936.9 L508.2,935.4 L508.8,937.2 L509.4,936.1 L510.0,938.0 L510.6,936.8 L511.2,938.7 L511.8,937.6 L512.3,939.4 L512.9,938.3 L513.5,940.2 L514.1,939.0 L514.7,940.9 L515.3,939.8 L515.8,940.9 L516.4,939.0 L517.0,940.2 L517.6,938.3 L518.2,939.1 L518.8,936.8 L519.3,937.6 L519.9,935.4 L520.5,936.5 L521.1,934.7 L521.7,936.5 L522.3,935.4 L522.8,937.6 L523.4,936.8 L524.0,937.2 L524.6,934.7 L525.2,935.1 L525.8,932.5 L526.4,933.6 L526.9,931.7 L527.5,932.9 L528.1,931.0 L528.7,932.9 L529.3,931.7 L529.9,933.6 L530.4,932.5 L531.0,933.2 L531.6,931.0 L532.2,932.9 L532.8,931.7 L533.4,933.6 L533.9,932.5 L534.5,934.1 L535.1,932.8 L535.7,934.5 L536.3,933.2 L536.9,934.3 L537.4,932.5 L538.0,934.7 L538.6,933.9 L539.2,936.2 L539.8,935.4 L540.4,937.6 L540.9,936.8 L541.5,939.1 L542.1,938.3 L542.6,937.6 L543.0,933.9 L543.6,935.1 L544.2,933.2 L544.7,934.3 L545.3,932.5 L545.9,934.3 L546.5,933.2 L547.1,935.1 L547.7,933.9 L548.2,935.8 L548.8,934.7 L549.4,937.2 L550.0,936.8 L550.6,939.1 L551.2,938.3 L551.8,939.1 L552.3,936.8 L552.9,937.6 L553.5,935.4 L554.1,936.5 L554.7,934.7 L555.3,935.1 L555.8,932.5 L556.4,933.6 L557.0,931.7 L557.6,933.0 L558.2,931.3 L558.8,933.0 L559.3,931.7 L559.9,934.3 L560.5,933.9 L561.1,936.9 L561.7,936.8 L562.3,941.3 L562.8,942.7 L563.4,947.8 L564.0,950.0 L564.5,948.6 L565.0,944.1 L565.4,949.3 L565.9,951.4 L566.3,955.9 L566.8,957.3 L567.3,959.1 L567.9,958.0 L568.5,959.1 L569.1,957.3 L569.5,955.9 L570.0,951.4 L570.4,955.9 L570.8,957.3 L571.4,959.1 L572.0,958.0 L572.6,961.3 L573.2,961.7 L573.6,965.0 L574.1,965.3 L574.5,965.0 L574.9,961.7 L575.5,961.0 L576.1,957.3 L576.7,955.9 L577.3,951.4 L577.7,948.6 L578.1,942.7 L578.6,940.5 L579.0,935.4 L579.5,934.3 L579.9,930.3 L580.5,930.7 L581.1,928.1 L581.6,929.9 L582.2,928.8 L582.8,930.7 L583.4,929.5 L584.0,931.4 L584.6,930.3 L585.1,932.1 L585.7,931.0 L586.3,934.3 L586.9,934.7 L587.5,933.6 L588.1,929.5 L588.5,934.0 L588.9,935.4 L589.5,938.7 L590.1,939.0 L590.5,939.4 L591.0,936.8 L591.4,934.0 L591.9,928.1 L592.3,926.7 L592.7,922.2 L593.2,923.0 L593.6,920.8 L594.2,923.0 L594.8,922.2 L595.4,924.5 L595.9,923.7 L596.5,925.6 L597.1,924.4 L597.7,925.7 L598.3,924.0 L598.9,925.7 L599.5,924.4 L600.0,926.3 L600.6,925.2 L601.2,926.3 L601.8,924.4 L602.4,926.3 L603.0,925.2 L603.5,926.3 L604.1,924.4 L604.7,927.0 L605.3,926.6 L605.9,926.7 L606.5,923.7 L607.0,924.1 L607.6,921.5 L608.2,922.6 L608.8,920.8 L609.4,923.0 L610.0,922.2 L610.5,926.7 L611.1,928.1 L611.7,932.1 L612.3,933.2 L612.9,935.1 L613.5,933.9 L614.1,935.1 L614.6,933.2 L615.2,934.3 L615.8,932.5 L616.4,934.3 L617.0,933.2 L617.6,936.2 L618.1,936.1 L618.7,937.2 L619.3,935.4 L619.9,935.4 L620.5,932.5 L621.1,933.2 L621.6,931.0 L622.2,931.0 L622.8,928.1 L623.4,927.8 L624.0,924.4 L624.6,925.2 L625.1,923.0 L625.7,923.7 L626.3,921.5 L626.9,922.6 L627.5,920.8 L628.1,923.7 L628.6,923.7 L629.2,925.9 L629.8,925.2 L630.4,925.9 L631.0,923.7 L631.6,924.8 L632.2,923.0 L632.7,924.8 L633.3,923.7 L633.9,926.7 L634.5,926.6 L635.1,931.8 L635.7,933.9 L636.1,939.8 L636.5,942.7 L637.0,947.1 L637.4,948.5 L637.8,952.2 L638.3,952.9 L638.7,954.8 L639.2,953.6 L639.6,952.6 L640.0,948.5 L640.5,947.1 L640.9,942.7 L641.4,945.6 L641.8,945.6 L642.2,945.6 L642.7,942.7 L643.1,942.7 L643.5,939.8 L644.1,939.8 L644.7,936.8 L645.3,936.5 L645.9,933.2 L646.5,932.5 L647.0,928.8 L647.6,933.6 L648.2,935.4 L648.8,934.7 L649.4,931.0 L650.0,930.3 L650.5,926.6 L651.1,926.7 L651.7,923.7 L652.3,924.5 L652.9,922.2 L653.5,923.6 L654.1,922.0 L654.6,923.7 L655.2,922.5 L655.8,924.6 L656.4,923.7 L657.0,924.8 L657.6,923.0 L658.1,923.7 L658.7,922.3" fill="none" stroke="#f26a05" stroke-width="2.1" stroke-linejoin="round" stroke-linecap="round"/>
<rect class="ax" x="132.7" y="620.0" width="551.7" height="380.3"/>
<line class="tk" x1="126.9" y1="683.4" x2="132.7" y2="683.4"/>
<text class="dj" font-size="15.1" text-anchor="end" transform="translate(120.30,689.70) rotate(0.03) scale(0.98,1)">18500</text>
<line class="tk" x1="126.9" y1="755.5" x2="132.7" y2="755.5"/>
<text class="dj" font-size="15.1" text-anchor="end" transform="translate(120.30,761.77) rotate(0.03) scale(0.98,1)">18000</text>
<line class="tk" x1="126.9" y1="827.5" x2="132.7" y2="827.5"/>
<text class="dj" font-size="15.1" text-anchor="end" transform="translate(120.30,833.84) rotate(0.03) scale(0.98,1)">17500</text>
<line class="tk" x1="126.9" y1="899.6" x2="132.7" y2="899.6"/>
<text class="dj" font-size="15.1" text-anchor="end" transform="translate(120.30,905.91) rotate(0.03) scale(0.98,1)">17000</text>
<line class="tk" x1="126.9" y1="971.7" x2="132.7" y2="971.7"/>
<text class="dj" font-size="15.1" text-anchor="end" transform="translate(120.30,977.98) rotate(0.03) scale(0.98,1)">16500</text>
<line class="tk" x1="157.0" y1="1000.3" x2="157.0" y2="1006.1"/>
<text class="dj" font-size="15.1" text-anchor="end" transform="translate(155.10,1023.60) scale(1,1.06) rotate(-30) scale(1.015,1)">2022-12-03 00:00:00</text>
<line class="tk" x1="187.5" y1="1000.3" x2="187.5" y2="1006.1"/>
<text class="dj" font-size="15.1" text-anchor="end" transform="translate(185.63,1023.60) scale(1,1.06) rotate(-30) scale(1.015,1)">2022-12-04 06:00:00</text>
<line class="tk" x1="218.1" y1="1000.3" x2="218.1" y2="1006.1"/>
<text class="dj" font-size="15.1" text-anchor="end" transform="translate(216.16,1023.60) scale(1,1.06) rotate(-30) scale(1.015,1)">2022-12-05 12:00:00</text>
<line class="tk" x1="248.6" y1="1000.3" x2="248.6" y2="1006.1"/>
<text class="dj" font-size="15.1" text-anchor="end" transform="translate(246.69,1023.60) scale(1,1.06) rotate(-30) scale(1.015,1)">2022-12-06 18:00:00</text>
<line class="tk" x1="279.1" y1="1000.3" x2="279.1" y2="1006.1"/>
<text class="dj" font-size="15.1" text-anchor="end" transform="translate(277.23,1023.60) scale(1,1.06) rotate(-30) scale(1.015,1)">2022-12-08 00:00:00</text>
<line class="tk" x1="309.7" y1="1000.3" x2="309.7" y2="1006.1"/>
<text class="dj" font-size="15.1" text-anchor="end" transform="translate(307.76,1023.60) scale(1,1.06) rotate(-30) scale(1.015,1)">2022-12-09 06:00:00</text>
<line class="tk" x1="340.2" y1="1000.3" x2="340.2" y2="1006.1"/>
<text class="dj" font-size="15.1" text-anchor="end" transform="translate(338.29,1023.60) scale(1,1.06) rotate(-30) scale(1.015,1)">2022-12-10 12:00:00</text>
<line class="tk" x1="370.7" y1="1000.3" x2="370.7" y2="1006.1"/>
<text class="dj" font-size="15.1" text-anchor="end" transform="translate(368.82,1023.60) scale(1,1.06) rotate(-30) scale(1.015,1)">2022-12-11 18:00:00</text>
<line class="tk" x1="401.2" y1="1000.3" x2="401.2" y2="1006.1"/>
<text class="dj" font-size="15.1" text-anchor="end" transform="translate(399.35,1023.60) scale(1,1.06) rotate(-30) scale(1.015,1)">2022-12-13 00:00:00</text>
<line class="tk" x1="431.8" y1="1000.3" x2="431.8" y2="1006.1"/>
<text class="dj" font-size="15.1" text-anchor="end" transform="translate(429.88,1023.60) scale(1,1.06) rotate(-30) scale(1.015,1)">2022-12-14 06:00:00</text>
<line class="tk" x1="462.3" y1="1000.3" x2="462.3" y2="1006.1"/>
<text class="dj" font-size="15.1" text-anchor="end" transform="translate(460.41,1023.60) scale(1,1.06) rotate(-30) scale(1.015,1)">2022-12-15 12:00:00</text>
<line class="tk" x1="492.8" y1="1000.3" x2="492.8" y2="1006.1"/>
<text class="dj" font-size="15.1" text-anchor="end" transform="translate(490.94,1023.60) scale(1,1.06) rotate(-30) scale(1.015,1)">2022-12-16 18:00:00</text>
<line class="tk" x1="523.4" y1="1000.3" x2="523.4" y2="1006.1"/>
<text class="dj" font-size="15.1" text-anchor="end" transform="translate(521.48,1023.60) scale(1,1.06) rotate(-30) scale(1.015,1)">2022-12-18 00:00:00</text>
<line class="tk" x1="553.9" y1="1000.3" x2="553.9" y2="1006.1"/>
<text class="dj" font-size="15.1" text-anchor="end" transform="translate(552.01,1023.60) scale(1,1.06) rotate(-30) scale(1.015,1)">2022-12-19 06:00:00</text>
<line class="tk" x1="584.4" y1="1000.3" x2="584.4" y2="1006.1"/>
<text class="dj" font-size="15.1" text-anchor="end" transform="translate(582.54,1023.60) scale(1,1.06) rotate(-30) scale(1.015,1)">2022-12-20 12:00:00</text>
<line class="tk" x1="615.0" y1="1000.3" x2="615.0" y2="1006.1"/>
<text class="dj" font-size="15.1" text-anchor="end" transform="translate(613.07,1023.60) scale(1,1.06) rotate(-30) scale(1.015,1)">2022-12-21 18:00:00</text>
<line class="tk" x1="645.5" y1="1000.3" x2="645.5" y2="1006.1"/>
<text class="dj" font-size="15.1" text-anchor="end" transform="translate(643.60,1023.60) scale(1,1.06) rotate(-30) scale(1.015,1)">2022-12-23 00:00:00</text>
<text class="dj" font-size="15.1" text-anchor="middle" transform="translate(408.00,1131.50) scale(1,1.06) rotate(0.03)">Date</text>
<text class="dj" font-size="15.1" text-anchor="middle" transform="translate(62.60,813.30) scale(1,1.06) rotate(-90)">Price($)</text>
<line x1="552.4" y1="641.9" x2="585.5" y2="641.9" stroke="#0a80e0" stroke-width="2.5"/>
<line x1="552.4" y1="666.45" x2="585.5" y2="666.45" stroke="#e25a08" stroke-width="2.0"/>
<text class="dj" font-size="15.1" text-anchor="start" transform="translate(597.60,647.20) scale(1,1.01) rotate(0.03)">True</text>
<text class="dj" font-size="15.1" text-anchor="start" transform="translate(597.60,671.90) scale(1,1.01) rotate(0.03)">Predicted</text>
</g>
<text class="cap" x="362.8" y="1181.4" font-size="20.55" text-anchor="middle"><tspan font-weight="bold">b.</tspan> Results of Proposed model tested on test set 2.</text>
</svg></body></html>
